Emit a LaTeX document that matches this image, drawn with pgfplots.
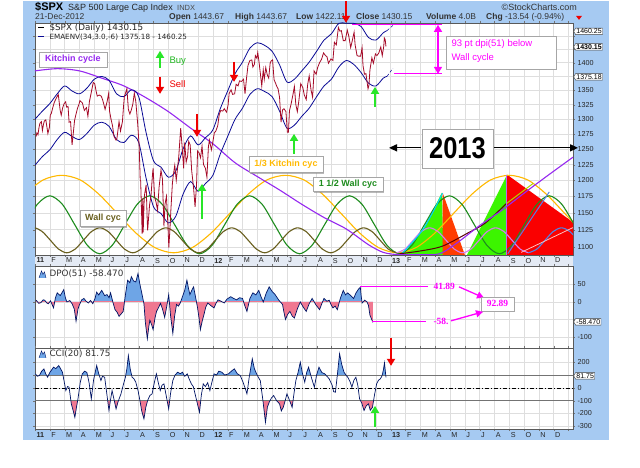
\documentclass[border=0pt]{standalone}
\usepackage{fontspec}
\setmainfont{Liberation Sans}
\newfontfamily\dvs{DejaVu Sans}
\newfontfamily\lser{Liberation Serif}
\usepackage{graphicx}
\usepackage{pgfplots}
\usepackage{pgfplotstable}
\pgfplotsset{compat=1.18}
\usetikzlibrary{arrows.meta,shadows,shapes.symbols}

\definecolor{bgblue}{RGB}{166,202,242}
\definecolor{stripc}{RGB}{228,234,244}
\definecolor{pricec}{RGB}{165,10,40}
\definecolor{envc}{RGB}{10,10,150}
\definecolor{kitc}{RGB}{150,40,240}
\definecolor{orc}{RGB}{255,185,0}
\definecolor{grc}{RGB}{30,140,30}
\definecolor{olc}{RGB}{105,95,30}
\definecolor{pinkc}{RGB}{215,125,235}
\definecolor{stblue}{RGB}{80,130,230}
\definecolor{limec}{RGB}{60,245,0}
\definecolor{redf}{RGB}{250,0,0}
\definecolor{redo}{RGB}{255,60,0}
\definecolor{cyanc}{RGB}{0,210,255}
\definecolor{maroonc}{RGB}{90,0,10}
\definecolor{ygc}{RGB}{175,215,0}
\definecolor{mag}{RGB}{255,0,255}
\definecolor{dpob}{RGB}{110,165,230}
\definecolor{dpop}{RGB}{240,120,145}
\definecolor{navyc}{RGB}{0,20,100}
\definecolor{bgreen}{RGB}{40,230,40}
\definecolor{bred}{RGB}{240,0,0}

\pgfplotstableread{
t p
0.07 1271
0.13 1277
0.20 1274
0.27 1286
0.33 1293
0.43 1296
0.50 1281
0.57 1291
0.63 1297
0.73 1299
0.87 1276
0.97 1286
1.03 1307
1.10 1310
1.20 1320
1.30 1329
1.43 1336
1.57 1343
1.70 1315
1.77 1307
1.87 1320
1.97 1327
2.07 1330
2.13 1321
2.23 1322
2.30 1295
2.40 1296
2.50 1257
2.57 1273
2.67 1298
2.77 1309
2.87 1319
2.97 1326
3.03 1332
3.20 1328
3.33 1315
3.47 1320
3.57 1305
3.67 1330
3.80 1347
3.93 1364
4.03 1362
4.13 1348
4.20 1340
4.33 1342
4.47 1340
4.57 1333
4.73 1317
4.87 1331
4.97 1345
5.03 1314
5.13 1300
5.23 1289
5.33 1271
5.47 1265
5.53 1268
5.67 1296
5.77 1280
5.90 1296
5.97 1321
6.03 1339
6.20 1353
6.30 1317
6.40 1309
6.50 1316
6.60 1326
6.70 1345
6.80 1331
6.93 1292
7.03 1254
7.10 1200
7.13 1199
7.23 1119
7.27 1172
7.30 1121
7.37 1172
7.40 1179
7.50 1193
7.57 1140
7.60 1124
7.73 1162
7.83 1177
7.93 1210
7.97 1219
8.07 1174
8.17 1166
8.27 1154
8.37 1189
8.50 1216
8.60 1202
8.70 1130
8.77 1163
8.87 1175
8.97 1131
9.03 1099
9.10 1124
9.17 1155
9.27 1195
9.33 1208
9.43 1224
9.53 1200
9.60 1215
9.70 1238
9.83 1285
9.93 1253
10.03 1219
10.10 1261
10.20 1229
10.30 1239
10.37 1263
10.47 1257
10.57 1216
10.70 1188
10.80 1159
10.90 1193
10.97 1247
11.07 1244
11.17 1236
11.27 1255
11.37 1225
11.50 1219
11.60 1205
11.70 1254
11.77 1265
11.90 1249
11.97 1258
12.10 1277
12.20 1280
12.33 1289
12.43 1308
12.53 1315
12.67 1314
12.77 1318
12.93 1312
13.03 1325
13.10 1345
13.23 1351
13.33 1343
13.47 1344
13.57 1361
13.70 1358
13.80 1367
13.93 1366
14.07 1370
14.17 1344
14.27 1371
14.37 1395
14.50 1404
14.63 1405
14.70 1392
14.80 1397
14.87 1413
14.97 1408
15.03 1419
15.13 1398
15.30 1358
15.40 1387
15.47 1370
15.57 1391
15.67 1378
15.77 1372
15.87 1400
15.93 1403
16.03 1405
16.13 1369
16.23 1363
16.30 1358
16.40 1353
16.50 1338
16.60 1295
16.70 1316
16.80 1318
16.93 1313
17.03 1278
17.10 1278
17.17 1315
17.27 1325
17.40 1342
17.50 1357
17.60 1325
17.70 1313
17.80 1331
17.93 1362
18.07 1355
18.17 1342
18.30 1334
18.40 1361
18.50 1376
18.63 1350
18.73 1338
18.83 1385
18.97 1379
19.07 1391
19.20 1400
19.33 1406
19.47 1418
19.60 1413
19.70 1411
19.80 1399
19.97 1407
20.10 1404
20.20 1438
20.33 1433
20.47 1466
20.57 1459
20.67 1460
20.80 1441
20.93 1441
21.07 1461
21.17 1450
21.30 1428
21.40 1440
21.53 1457
21.60 1433
21.73 1413
21.83 1412
21.97 1412
22.07 1428
22.13 1395
22.23 1379
22.33 1380
22.47 1353
22.53 1359
22.60 1387
22.73 1409
22.83 1399
22.97 1416
23.07 1413
23.20 1418
23.33 1429
23.43 1413
23.53 1430
23.57 1446
23.63 1443
23.68 1430
}\pricedata

\pgfplotstableread{
t up lo
0 1300 1224
0.5 1314 1238
1 1327 1249
1.5 1344 1266
2 1358 1278
2.5 1349 1271
3 1344 1266
3.5 1354 1276
4 1370 1290
4.5 1375 1295
5 1368 1288
5.5 1344 1266
6 1339 1261
6.5 1351 1273
7 1339 1261
7.5 1277 1203
8 1231 1159
8.5 1221 1149
9 1205 1135
9.5 1215 1145
10 1251 1179
10.5 1272 1198
11 1257 1183
11.5 1269 1195
12 1282 1208
12.5 1318 1242
13 1349 1271
13.5 1380 1300
14 1401 1319
14.5 1427 1343
15 1437 1353
15.5 1432 1348
16 1421 1339
16.5 1396 1314
17 1365 1285
17.5 1370 1290
18 1385 1305
18.5 1401 1319
19 1421 1339
19.5 1442 1358
20 1454 1370
20.5 1474 1392
21 1474 1404
21.5 1474 1397
22 1468 1382
22.5 1447 1363
23 1442 1358
23.5 1456 1372
23.75 1460 1375
}\envdata

\pgfplotstableread{
t v
0.08 5
0.25 -4
0.4 -2
0.55 6
0.65 5
0.8 -3
0.9 -5
1.05 3
1.25 -17
1.38 12
1.5 26
1.7 18
1.94 35
2.05 12
2.15 0
2.35 4
2.5 -5
2.65 -20
2.77 -55
2.9 -20
3.0 -8
3.15 6
3.3 10
3.45 2
3.6 -3
3.75 4
3.9 -5
4.05 10
4.16 28
4.3 20
4.5 33
4.7 18
4.86 21
5.0 12
5.1 26
5.25 0
5.4 -22
5.55 -30
5.67 -41
5.8 -35
5.95 -27
6.1 20
6.25 62
6.4 55
6.5 72
6.65 60
6.8 57
6.95 81
7.08 50
7.2 26
7.35 -5
7.45 -60
7.58 -105
7.68 -70
7.75 -52
7.87 -65
7.97 -79
8.1 -45
8.2 -27
8.35 -15
8.47 -4
8.6 -20
8.75 -44
8.9 -10
9.02 21
9.15 -40
9.3 -90
9.42 -40
9.55 -7
9.68 -12
9.8 -3
9.95 15
10.1 33
10.25 62
10.35 40
10.45 21
10.6 35
10.7 43
10.85 10
10.97 -17
11.08 -50
11.16 -79
11.28 -55
11.4 -36
11.52 -15
11.66 -3
11.85 -10
12.08 -17
12.2 -5
12.35 6
12.55 2
12.77 -3
12.95 8
13.2 15
13.4 10
13.6 6
13.8 12
14.0 10
14.15 -10
14.3 -27
14.5 10
14.7 26
14.9 20
15.1 33
15.25 15
15.4 0
15.6 25
15.8 43
16.0 30
16.2 21
16.45 5
16.7 -7
16.8 -30
16.9 -50
17.05 -35
17.2 -27
17.35 -40
17.5 -46
17.7 -20
17.9 0
18.1 -15
18.3 -27
18.5 -5
18.7 10
18.95 -8
19.2 -22
19.35 -5
19.5 10
19.7 2
19.85 5
19.98 -8
20.1 -17
20.25 -12
20.4 -22
20.6 10
20.8 33
20.95 20
21.1 26
21.3 18
21.5 10
21.65 25
21.8 35
21.95 41.89
22.0 20
22.07 -3
22.25 5
22.4 0
22.5 -10
22.6 -38
22.8 -58.47
}\dpodata

\pgfplotstableread{
t v
0.03 109
0.15 90
0.3 96
0.45 130
0.6 148
0.72 110
0.85 83
1.0 120
1.25 161
1.4 150
1.6 174
1.72 150
1.85 122
1.95 60
2.08 -21
2.2 10
2.3 5
2.45 -125
2.58 -180
2.69 -230
2.8 -150
2.9 -86
3.05 40
3.19 109
3.35 130
3.5 120
3.65 40
3.8 -86
3.95 60
4.16 174
4.3 110
4.45 57
4.55 90
4.7 83
4.85 -50
4.99 -177
5.1 -90
5.2 -21
5.35 -100
5.47 -164
5.6 -110
5.8 -47
5.95 20
6.1 83
6.2 150
6.3 252
6.42 150
6.55 83
6.68 70
6.8 44
6.95 -20
7.08 -99
7.2 -180
7.35 -242
7.48 -150
7.6 -99
7.75 -60
7.9 -47
8.05 40
8.19 109
8.32 40
8.45 -21
8.57 20
8.7 31
8.85 -60
9.02 -164
9.15 -40
9.3 57
9.45 100
9.63 122
9.8 110
9.95 122
10.1 90
10.27 109
10.4 70
10.55 31
10.68 10
10.8 -47
10.95 -120
11.1 -190
11.22 -60
11.35 31
11.5 10
11.65 40
11.8 -21
11.95 50
12.08 109
12.25 100
12.4 130
12.6 122
12.8 100
13.05 109
13.25 130
13.45 148
13.65 110
13.85 96
14.05 40
14.2 -10
14.3 -47
14.45 80
14.66 226
14.8 150
14.95 109
15.08 80
15.2 57
15.38 -100
15.55 -269
15.68 -150
15.8 -113
15.95 -80
16.1 -60
16.3 -100
16.5 -125
16.62 -180
16.75 -152
16.88 -100
17.0 -47
17.18 -100
17.35 -152
17.48 -40
17.6 57
17.75 120
17.9 200
18.05 110
18.2 44
18.33 120
18.46 161
18.65 80
18.85 5
19.0 100
19.16 161
19.35 120
19.55 109
19.7 90
19.85 70
20.05 20
20.15 -30
20.27 -34
20.4 100
20.55 266
20.7 180
20.85 122
20.98 100
21.1 83
21.25 50
21.38 5
21.52 60
21.65 83
21.78 20
21.9 -86
22.05 -120
22.2 -177
22.35 -140
22.5 -125
22.62 -175
22.77 -152
22.9 -60
23.05 31
23.18 60
23.3 70
23.4 90
23.45 109
23.52 150
23.58 195
23.68 82
}\ccidata

\pgfplotsset{
  panel/.style={
    scale only axis, width=538pt, xmin=0, xmax=36.3,
    axis background/.style={fill=white},
    xtick={0,1,...,36},
    grid=major, major grid style={draw=black!13, line width=0.5pt},
    yticklabel pos=right,
    axis line style={draw=black!65, line width=0.6pt},
    tick align=outside, major tick length=2pt,
    tick style={draw=black!55},
    yticklabel style={font=\fontsize{7.2}{8}\selectfont, text=black!85, xshift=-1pt},
    xticklabel style={anchor=north west, font=\fontsize{7.2}{8}\selectfont, text=black!85, inner sep=1pt, xshift=0.3pt},
    /pgf/number format/assume math mode=true,
    clip=true,
  },
  cyc/.style={line width=1.1pt, smooth},
}
\tikzset{
  cbox/.style={draw=black!35, fill=white, drop shadow={shadow xshift=1.2pt, shadow yshift=-1.2pt, fill=black!45, opacity=.6}, inner sep=1pt},
  ua/.style={line width=1.7pt, -{Triangle[width=8pt,length=7pt]}},
  vb/.style={signal, signal to=west, signal pointer angle=120, draw=black!75, fill=white, inner sep=0.8pt, anchor=west, font=\fontsize{7}{7}\selectfont},
}

\begin{document}
\begin{tikzpicture}[x=1pt,y=1pt]
\fill[white] (0,0) rectangle (640,467);
\fill[bgblue] (23,28) rectangle (609,467);
\fill[stripc] (35,202) rectangle (573,213);

% ---------------- main price panel (ratio scale) ----------------
\begin{axis}[panel, at={(35pt,213pt)}, anchor=south west, height=232pt,
  y coord trafo/.code={\pgfmathparse{1000*ln(#1/1100)}},
  y coord inv trafo/.code={\pgfmathparse{1100*exp(#1/1000)}},
  ymin=1088.5, ymax=1475,
  ytick={1100,1125,1150,1175,1200,1225,1250,1275,1300,1325,1350,1375,1400,1425,1450},
  yticklabels={1100,1125,1150,1175,1200,1225,1250,1275,1300,1325,1350,{},1400,{},{}},
  xticklabels={\textbf{11},F,M,A,M,J,J,A,S,O,N,D,\textbf{12},F,M,A,M,J,J,A,S,O,N,D,\textbf{13},F,M,A,M,J,J,A,S,O,N,D,{}},
]
% 2013 filled projections
\addplot[fill=limec, draw=none] coordinates {(24.8,1088.6) (26.2,1126) (27.46,1181) (27.55,1088.6)};
\addplot[fill=redo, draw=none] coordinates {(27.5,1181) (29.0,1088.6) (27.5,1088.6)};
\addplot[fill=limec, draw=none] coordinates {(29.15,1088.6) (31.85,1209) (31.85,1088.6)};
\addplot[fill=redf, draw=none] coordinates {(31.85,1088.6) (31.85,1209) (36.3,1136) (36.3,1088.6)};
% 1/3 Kitchin cycle (orange)
\addplot[cyc, orc] coordinates {
(-0.716,1178.3) (0.542,1200.6) (1.8,1208.0) (3.058,1200.6) (4.316,1178.3) (5.574,1148.6)
(6.832,1119.6) (8.09,1098.8) (9.348,1091.4) (10.606,1098.8) (11.864,1119.6) (13.122,1148.6)
(14.38,1178.3) (15.638,1200.6) (16.896,1208.0) (18.154,1200.6) (19.412,1178.3) (20.67,1148.6)
(21.928,1119.6) (23.186,1098.8) (24.444,1091.4) (25.702,1098.8) (26.96,1119.6) (28.218,1148.6)
(29.476,1178.3) (30.734,1200.6) (31.992,1208.0) (33.25,1200.6) (34.508,1178.3) (35.766,1148.6)
(37.024,1119.6)};
% 1 1/2 Wall cycle (green)
\addplot[cyc, grc] coordinates {
(-0.685,1132.2) (0.158,1163.0) (1.000,1176.0) (1.843,1163.0) (2.685,1132.2) (3.528,1102.2)
(4.370,1090.0) (5.213,1102.2) (6.055,1132.2) (6.898,1163.0) (7.740,1176.0) (8.583,1163.0)
(9.425,1132.2) (10.268,1102.2) (11.110,1090.0) (11.953,1102.2) (12.795,1132.2) (13.638,1163.0)
(14.480,1176.0) (15.323,1163.0) (16.165,1132.2) (17.008,1102.2) (17.850,1090.0) (18.693,1102.2)
(19.535,1132.2) (20.378,1163.0) (21.220,1176.0) (22.063,1163.0) (22.905,1132.2) (23.748,1102.2)
(24.590,1090.0) (25.433,1102.2) (26.275,1132.2) (27.118,1163.0) (27.960,1176.0) (28.803,1163.0)
(29.645,1132.2) (30.488,1102.2) (31.330,1090.0) (32.173,1102.2) (33.015,1132.2) (33.858,1163.0)
(34.700,1176.0) (35.543,1163.0) (36.385,1132.2)};
% Wall cycle (olive, then pink and blue in 2013)
\addplot[cyc, olc] coordinates {
(-0.631,1122.3) (-0.075,1127.7) (0.481,1122.3) (1.038,1109.4) (1.594,1096.6) (2.150,1091.4)
(2.707,1096.6) (3.263,1109.4) (3.819,1122.3) (4.375,1127.7) (4.931,1122.3) (5.488,1109.4)
(6.044,1096.6) (6.600,1091.4) (7.157,1096.6) (7.713,1109.4) (8.269,1122.3) (8.825,1127.7)
(9.382,1122.3) (9.938,1109.4) (10.494,1096.6) (11.050,1091.4) (11.607,1096.6) (12.163,1109.4)
(12.719,1122.3) (13.275,1127.7) (13.832,1122.3) (14.388,1109.4) (14.944,1096.6) (15.500,1091.4)
(16.057,1096.6) (16.613,1109.4) (17.169,1122.3) (17.725,1127.7) (18.282,1122.3) (18.838,1109.4)
(19.394,1096.6) (19.950,1091.4) (20.507,1096.6) (21.063,1109.4) (21.619,1122.3) (22.175,1127.7)
(22.732,1122.3) (23.288,1109.4) (23.844,1096.6) (24.400,1091.4)};
\addplot[cyc, pinkc] coordinates {
(24.400,1091.4) (24.957,1096.6) (25.513,1109.4) (26.069,1122.3) (26.625,1127.7) (27.182,1122.3)
(27.738,1109.4) (28.294,1096.6) (28.850,1091.4) (29.407,1096.6) (29.963,1109.4) (30.519,1122.3)
(31.075,1127.7) (31.632,1122.3) (32.188,1109.4) (32.744,1096.6) (33.300,1091.4)};
\addplot[cyc, stblue] coordinates {
(33.300,1091.4) (33.857,1096.6) (34.413,1109.4) (34.969,1122.3) (35.525,1127.7) (36.082,1122.3) (36.638,1109.4)};
% other 2013 projection lines
\addplot[line width=1pt, cyanc, smooth] coordinates {(24.75,1090) (26.2,1126) (27.5,1180)};
\addplot[line width=1pt, maroonc, smooth] coordinates {(24.6,1090) (26,1094) (27.5,1101) (29.2,1120) (30.4,1135) (31.8,1164)};
\addplot[line width=1pt, ygc] coordinates {(31.8,1164) (33.6,1195)};
\addplot[line width=1pt, stblue] coordinates {(31.9,1090) (34.7,1182)};
\addplot[line width=0.8pt, red!25] coordinates {(32.8,1092) (36.3,1128)};
\addplot[line width=0.8pt, kitc!70] coordinates {(31.83,1088.6) (31.83,1209)};
% Kitchin cycle (purple)
\addplot[cyc, kitc] coordinates {
(0,1385) (1.5,1389) (3,1385) (4.5,1372) (6,1358) (7.5,1337) (9,1313) (10.5,1285) (12,1259)
(13.5,1228) (15,1206) (16.5,1185) (18,1163) (19.5,1143) (21,1126) (22.5,1103) (23.5,1092)
(24.5,1088.8) (26,1088.8) (27.3,1090) (28.5,1106) (30,1131) (31.5,1154) (33,1180) (34.5,1206) (36.3,1237)};
% envelopes
\addplot[envc, line width=0.8pt, smooth] table[x=t, y=up] {\envdata};
\addplot[envc, line width=0.8pt, smooth] table[x=t, y=lo] {\envdata};
\addplot[envc, line width=0.5pt, densely dashed] coordinates {(23.75,1460) (24.15,1470)};
\addplot[envc, line width=0.5pt, densely dashed] coordinates {(23.75,1375) (24.15,1390)};
% price
\addplot[pricec, line width=0.8pt] table[x=t, y=p] {\pricedata};
\end{axis}

% ---------------- DPO panel ----------------
\begin{axis}[panel, at={(35pt,120pt)}, anchor=south west, height=82pt,
  ymin=-131, ymax=103, ytick={-100,-50,0,50}, yticklabels={-100,{},0,50},
  xticklabels={},
]
\begin{scope}
\clip (axis cs:0,0) rectangle (axis cs:36.3,103);
\addplot[fill=dpob, draw=none] table[x=t, y=v] {\dpodata} \closedcycle;
\end{scope}
\begin{scope}
\clip (axis cs:0,-131) rectangle (axis cs:36.3,0);
\addplot[fill=dpop, draw=none] table[x=t, y=v] {\dpodata} \closedcycle;
\end{scope}
\addplot[navyc, line width=0.7pt] table[x=t, y=v] {\dpodata};
\end{axis}

% ---------------- CCI panel ----------------
\begin{axis}[panel, at={(35pt,39pt)}, anchor=south west, height=81pt,
  ymin=-320, ymax=312, ytick={-300,-200,-100,0,100,200}, yticklabels={-300,-200,-100,0,{},200},
  xticklabels={\textbf{11},F,M,A,M,J,J,A,S,O,N,D,\textbf{12},F,M,A,M,J,J,A,S,O,N,D,\textbf{13},F,M,A,M,J,J,A,S,O,N,D,{}},
]
\begin{scope}
\clip (axis cs:0,100) rectangle (axis cs:36.3,312);
\addplot[fill=dpob, draw=none] table[x=t, y=v] {\ccidata} \closedcycle;
\end{scope}
\begin{scope}
\clip (axis cs:0,-320) rectangle (axis cs:36.3,-100);
\addplot[fill=dpop, draw=none] table[x=t, y=v] {\ccidata} \closedcycle;
\end{scope}
\addplot[black!55, line width=1pt] coordinates {(0,100) (36.3,100)};
\addplot[black!55, line width=1pt] coordinates {(0,-100) (36.3,-100)};
\addplot[black, line width=0.6pt, dash pattern=on 4pt off 2pt on 1pt off 2pt] coordinates {(0,0) (36.3,0)};
\addplot[navyc, line width=0.7pt] table[x=t, y=v] {\ccidata};
\end{axis}

% ---------------- header ----------------
\node[anchor=base west, inner sep=0, font=\bfseries\fontsize{11}{12}\selectfont] at (35,457) {\$SPX};
\node[anchor=base west, inner sep=0, font=\fontsize{9}{10}\selectfont, text=black!85] at (68,457) {S\&P 500 Large Cap Index};
\node[anchor=base west, inner sep=0, font=\fontsize{7.5}{9}\selectfont, text=black!70] at (177,457) {INDX};
\node[anchor=base east, inner sep=0, font=\fontsize{9}{10}\selectfont, text=black!80] at (577,457) {©StockCharts.com};
\begin{scope}[every node/.style={anchor=base west, inner sep=0, font=\fontsize{8.5}{9}\selectfont, text=black!80}]
\node at (35,448.5) {21-Dec-2012};
\node at (169,448.5) {\textbf{Open} 1443.67};
\node at (235,448.5) {\textbf{High} 1443.67};
\node at (296,448.5) {\textbf{Low} 1422.11};
\node at (356,448.5) {\textbf{Close} 1430.15};
\node at (426,448.5) {\textbf{Volume} 4.0B};
\node at (486,448.5) {\textbf{Chg} -13.54 (-0.94\%)};
\end{scope}
\fill[bred] (576,452) -- (582,452) -- (579,448) -- cycle;

% legend in main panel
\draw[black, line width=1.2pt] (38,440) -- (44,440);
\node[anchor=west, font=\dvs\fontsize{8.8}{10}\selectfont, text=black!85] at (46,440) {\$SPX (Daily) 1430.15};
\draw[envc, line width=1.2pt] (38,431) -- (44,431);
\node[anchor=west, font=\dvs\fontsize{7.2}{8}\selectfont, text=black!85] at (46,431) {EMAENV(34,3.0,-6) 1375.18 - 1460.25};

% value boxes on the right
\node[vb] at (573.5,436.5) {1460.25};
\node[vb, font=\bfseries\fontsize{7}{7}\selectfont] at (573.5,421) {1430.15};
\node[vb] at (573.5,391) {1375.18};
\node[vb] at (573.5,146) {-58.470};
\node[vb] at (573.5,92) {81.75};

% indicator labels
\fill[dpob] (39,190) -- (41.5,197) -- (43,193.5) -- (44.5,196) -- (46,190) -- cycle;
\draw[navyc, line width=0.4pt] (39,190) -- (41.5,197) -- (43,193.5) -- (44.5,196) -- (46,190);
\node[anchor=west, font=\dvs\fontsize{8.8}{10}\selectfont, text=black!80] at (46,194) {DPO(51) -58.470};
\fill[dpob] (39,110) -- (41.5,117) -- (43,113.5) -- (44.5,116) -- (46,110) -- cycle;
\draw[navyc, line width=0.4pt] (39,110) -- (41.5,117) -- (43,113.5) -- (44.5,116) -- (46,110);
\node[anchor=west, font=\dvs\fontsize{8.8}{10}\selectfont, text=black!80] at (46,114) {CCI(20) 81.75};

% cycle label boxes
\node[cbox, minimum width=68pt, minimum height=15pt, text=kitc, font=\bfseries\fontsize{9}{10}\selectfont] at (73,408.5) {Kitchin cycle};
\node[cbox, minimum width=74pt, minimum height=16pt, text=orc, font=\bfseries\fontsize{9}{10}\selectfont] at (286,303.5) {1/3 Kitchin cyc};
\node[cbox, minimum width=70pt, minimum height=14pt, text=grc, font=\bfseries\fontsize{9}{10}\selectfont] at (348,283.5) {1 1/2 Wall cyc};
\node[cbox, minimum width=46pt, minimum height=16pt, text=olc, font=\bfseries\fontsize{9}{10}\selectfont] at (103,249.5) {Wall cyc};

% Buy / Sell legend
\draw[ua, bgreen] (160,400) -- (160,417);
\node[anchor=west, text=bgreen!80!black, font=\fontsize{9.5}{10}\selectfont] at (166,407) {Buy};
\draw[ua, bred] (160,391) -- (160,374);
\node[anchor=west, text=bred, font=\fontsize{9.5}{10}\selectfont] at (166,384) {Sell};

% signal arrows
\draw[ua, bred] (234,406) -- (234,386);
\draw[ua, bred] (346,467) -- (346,445);
\draw[ua, bred] (197,354) -- (197,331);
\draw[ua, bred] (391,130) -- (391,102);
\draw[ua, bgreen] (375,361) -- (375,381);
\draw[ua, bgreen] (294,314) -- (294,334);
\draw[ua, bgreen] (202,249) -- (202,284);
\draw[ua, bgreen] (375,41) -- (375,62);

% 2013 label
\node[cbox, minimum width=71pt, minimum height=39pt] at (457.5,319.5) {\bfseries\fontsize{30}{30}\selectfont\scalebox{0.85}[1]{2013}};
\draw[line width=1.3pt, -{Triangle[width=7pt,length=8pt]}] (421,320) -- (389,320);
\draw[line width=1.3pt, -{Triangle[width=7pt,length=8pt]}] (494,320) -- (578,320);

% 93 pt annotation
\draw[mag, line width=1.3pt] (352,443) -- (442,443);
\draw[mag, line width=1.3pt] (394,394) -- (442,394);
\draw[mag, line width=1.5pt, {Triangle[width=8pt,length=7pt]}-{Triangle[width=8pt,length=7pt]}] (438,443) -- (438,394);
\draw[draw=black!35, fill=white, drop shadow={shadow xshift=1.2pt, shadow yshift=-1.2pt, fill=black!45, opacity=.6}] (446,399) rectangle (556,432);
\node[anchor=west, text=mag, font=\fontsize{9.5}{10}\selectfont] at (448,423.5) {93 pt dpi(51) below};
\node[anchor=west, text=mag, font=\fontsize{9.5}{10}\selectfont] at (448,410) {Wall cycle};

% DPO annotation
\draw[mag, line width=1.2pt] (360,181) -- (428,181);
\node[anchor=west, text=mag, font=\lser\bfseries\fontsize{9.5}{10}\selectfont] at (430,181) {41.89};
\draw[mag, line width=1.3pt, -{Triangle[width=7pt,length=7pt]}] (459,181) -- (484,170);
\node[cbox, minimum width=33pt, minimum height=14pt, text=mag, font=\lser\bfseries\fontsize{9.5}{10}\selectfont] at (497.5,164) {92.89};
\draw[mag, line width=1.2pt] (372,146) -- (426,146);
\node[anchor=west, text=mag, font=\lser\bfseries\fontsize{9.5}{10}\selectfont] at (430,146) {-58.};
\draw[mag, line width=1.3pt, -{Triangle[width=7pt,length=7pt]}] (451,147) -- (483,156);
\end{tikzpicture}
\end{document}
